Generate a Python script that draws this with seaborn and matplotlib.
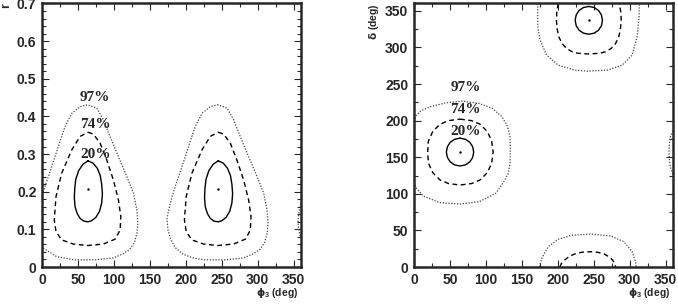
import matplotlib
matplotlib.use('Agg')
import matplotlib.pyplot as plt
import seaborn as sns
from matplotlib.ticker import MultipleLocator

# ---- left panel (phi3 vs r): contour vertices ----
A_SOLID_PHI = [64, 71, 77, 81, 83, 84, 83, 80, 75, 69, 64, 58, 53, 49, 46,
               45, 45.5, 47, 51, 57, 64]
A_SOLID_R = [0.282, 0.276, 0.262, 0.243, 0.220, 0.195, 0.170, 0.148, 0.132,
             0.123, 0.120, 0.122, 0.129, 0.142, 0.160, 0.183, 0.208, 0.233,
             0.256, 0.273, 0.282]
A_DASH_PHI = [64, 71.5, 80.8, 90.1, 99.3, 106.3, 109.6, 108.6, 101.7, 85.4,
              63.1, 43.6, 27.4, 19.5, 17.1, 19.5, 27.4, 41.4, 53, 64]
A_DASH_R = [0.358, 0.353, 0.329, 0.284, 0.231, 0.178, 0.134, 0.098, 0.074,
            0.061, 0.057, 0.061, 0.072, 0.094, 0.125, 0.187, 0.249, 0.311,
            0.347, 0.358]
A_DOT_PHI = [0, 5.6, 13.5, 22.7, 32, 41.4, 52.9, 63.1, 76.2, 85.4, 94.7,
             106.3, 118, 127.2, 131.9, 133.3, 132, 128.5, 122, 113, 99, 74,
             44, 20, 0]
A_DOT_R = [0.192, 0.222, 0.266, 0.320, 0.373, 0.408, 0.426, 0.431, 0.422,
           0.391, 0.346, 0.293, 0.240, 0.196, 0.151, 0.116, 0.090, 0.065,
           0.047, 0.035, 0.024, 0.019, 0.019, 0.028, 0.052]

B_SOLID_PHI = [245, 252, 258, 262, 264, 265, 264, 261, 256, 250, 245, 239,
               234, 230, 227, 226, 226.5, 228, 232, 238, 245]
B_SOLID_R = [0.282, 0.276, 0.262, 0.243, 0.220, 0.195, 0.170, 0.148, 0.132,
             0.123, 0.120, 0.122, 0.129, 0.142, 0.160, 0.183, 0.208, 0.233,
             0.256, 0.273, 0.282]
B_DASH_PHI = [245, 252.5, 261.8, 271, 280.3, 287.3, 290.6, 289.6, 282.7,
              266.4, 244, 224.6, 208.4, 200.5, 198, 200.5, 208.4, 222.4, 234,
              245]
B_DASH_R = [0.358, 0.353, 0.329, 0.284, 0.231, 0.178, 0.134, 0.098, 0.074,
            0.061, 0.057, 0.061, 0.072, 0.094, 0.125, 0.187, 0.249, 0.311,
            0.347, 0.358]
B_DOT_PHI = [245, 233.9, 222.4, 213, 203.7, 194.5, 186.6, 180.5, 176, 173.8,
             175, 178.5, 185, 196, 210, 225, 255, 280, 294, 303, 309.5, 313,
             314.3, 312.9, 308.2, 299, 287.3, 275.7, 266.4, 257.2, 245]
B_DOT_R = [0.431, 0.426, 0.408, 0.373, 0.320, 0.266, 0.222, 0.185, 0.150,
           0.128, 0.100, 0.075, 0.052, 0.034, 0.024, 0.019, 0.019, 0.024,
           0.035, 0.047, 0.065, 0.090, 0.116, 0.151, 0.196, 0.240, 0.293,
           0.346, 0.391, 0.422, 0.431]
C_DOT_PHI = [360, 357.5, 356, 356.5, 358.5, 360]
C_DOT_R = [0.168, 0.148, 0.125, 0.102, 0.086, 0.076]

R_CENTERS_PHI = [64, 244]
R_CENTERS_R = [0.207, 0.207]

# ---- right panel (phi3 vs delta) ----
L_SOLID_PHI = [64, 71.5, 77.5, 81.5, 83, 81.5, 77.5, 71.5, 64, 56.5, 50.5,
               46.5, 45, 46.5, 50.5, 56.5, 64]
L_SOLID_D = [176, 174.5, 170.5, 164.5, 157, 149.5, 143.5, 139.5, 138, 139.5,
             143.5, 149.5, 157, 164.5, 170.5, 174.5, 176]
L_DASH_PHI = [64, 80, 92, 102, 108, 110, 108, 102, 92, 80, 64, 48, 36, 26,
              20, 19, 20, 26, 36, 48, 64]
L_DASH_D = [202, 200, 195, 185, 172, 157, 142, 129, 119, 114, 112, 114, 119,
            129, 142, 157, 172, 185, 195, 200, 202]
L_DOT_PHI = [0, 3, 10, 21.9, 44.9, 67.7, 90.6, 108.8, 122.5, 130, 133.5, 134,
             133.5, 131, 124.9, 113.5, 90.6, 63.1, 35.7, 12.8, 4, 0]
L_DOT_D = [199, 207, 213.5, 218.9, 224.4, 226.7, 223.5, 216.7, 205.2, 192,
           178, 160, 142, 128, 116.5, 100.6, 89.2, 86, 88, 97, 107, 114]
E_DOT_PHI = [360, 356.5, 355, 354.5, 355, 356.5, 360]
E_DOT_D = [186, 178, 168, 157, 146, 136, 127]

T_SOLID_PHI = [243, 250.5, 256.5, 260.5, 262, 260.5, 256.5, 250.5, 243,
               235.5, 229.5, 225.5, 224, 225.5, 229.5, 235.5, 243]
T_SOLID_D = [356, 354.5, 350.5, 344.5, 337, 329.5, 323.5, 319.5, 318, 319.5,
             323.5, 329.5, 337, 344.5, 350.5, 354.5, 356]
T_DASH_PHI = [200.5, 198.5, 198, 199, 201.5, 206, 212, 220, 228, 243, 258,
              266, 274, 280, 284.5, 287, 288, 287.5, 285.5]
T_DASH_D = [360, 348, 337, 325, 314, 305, 298.5, 294, 292, 291, 292, 294,
            298.5, 305, 314, 325, 337, 348, 360]
T_DOT_PHI = [172, 172, 172.5, 175.2, 184.3, 200.4, 223.3, 241.5, 268.9,
             289.5, 303.3, 310.1, 312.9, 313]
T_DOT_D = [360, 337, 325, 310, 289.5, 275.8, 269, 267.6, 269, 275.8, 289.5,
           314.5, 341.8, 360]

BB_DASH_PHI = [202.7, 205, 209.5, 216, 223.3, 234, 246.1, 256, 264.4, 271,
               276, 278.8, 280.4]
BB_DASH_D = [0, 5, 9.6, 14.5, 17.8, 20.3, 20.9, 20, 17.8, 14, 9.6, 5, 0]
BB_DOT_PHI = [174.3, 177.5, 186.6, 200.4, 218.6, 246.1, 273.5, 291.9, 303.3,
              307.8, 309.2]
BB_DOT_D = [0, 11.9, 27.7, 37.8, 43.3, 45, 42.3, 34.5, 20.9, 7.2, 0]

D_CENTERS_PHI = [64, 243]
D_CENTERS_D = [157, 337]

CL_TEXT = ['97%', '74%', '20%']
R_TEXT_PHI = 74
R_TEXT_R = [0.450, 0.378, 0.300]
D_TEXT_PHI = 72
D_TEXT_D = [245, 215, 185]

STYLES = {
    'solid': dict(color='black', linestyle='-', linewidth=1.0),
    'dash': dict(color='black', linestyle=(0, (3.5, 2.5)), linewidth=1.0),
    'dot': dict(color='#444444', linestyle=(0, (1, 1.3)), linewidth=0.9),
}


def draw(ax, xs, ys, kind):
    sns.lineplot(x=xs, y=ys, sort=False, estimator=None, ax=ax,
                 legend=False, **STYLES[kind])


def style_axes(ax, xlim, ylim, ymaj, ymin, yfmt):
    ax.set_xlim(*xlim)
    ax.set_ylim(*ylim)
    ax.xaxis.set_major_locator(MultipleLocator(50))
    ax.xaxis.set_minor_locator(MultipleLocator(25))
    ax.yaxis.set_major_locator(MultipleLocator(ymaj))
    ax.yaxis.set_minor_locator(MultipleLocator(ymin))
    ax.yaxis.set_major_formatter(yfmt)
    ax.tick_params(which='both', direction='in', top=True, right=True,
                   width=0.8, labelsize=10)
    ax.tick_params(which='major', length=5)
    ax.tick_params(which='minor', length=3)
    ax.tick_params(axis='y', pad=4)
    ax.tick_params(axis='x', pad=4)
    for lab in ax.get_xticklabels() + ax.get_yticklabels():
        lab.set_fontweight('bold')
    for sp in ax.spines.values():
        sp.set_linewidth(1.8)
        sp.set_visible(True)
    ax.set_xlabel('')
    ax.set_ylabel('')


sns.set_style('ticks')
plt.rcParams['font.family'] = ['Liberation Sans', 'DejaVu Sans']
plt.rcParams['font.weight'] = 'bold'
plt.rcParams['mathtext.fontset'] = 'custom'
plt.rcParams['mathtext.rm'] = 'Liberation Sans:bold'
plt.rcParams['mathtext.it'] = 'DejaVu Sans'

fig = plt.figure(figsize=(6.78, 3.04), dpi=100)
ax1 = fig.add_axes([0.0619, 0.1217, 0.382, 0.8668])
ax2 = fig.add_axes([0.6106, 0.1217, 0.382, 0.8668])

for xs, ys, k in [(A_SOLID_PHI, A_SOLID_R, 'solid'),
                  (A_DASH_PHI, A_DASH_R, 'dash'),
                  (A_DOT_PHI, A_DOT_R, 'dot'),
                  (B_SOLID_PHI, B_SOLID_R, 'solid'),
                  (B_DASH_PHI, B_DASH_R, 'dash'),
                  (B_DOT_PHI, B_DOT_R, 'dot'),
                  (C_DOT_PHI, C_DOT_R, 'dot')]:
    draw(ax1, xs, ys, k)
sns.scatterplot(x=R_CENTERS_PHI, y=R_CENTERS_R, ax=ax1, color='black',
                s=3, linewidth=0, legend=False)

for xs, ys, k in [(L_SOLID_PHI, L_SOLID_D, 'solid'),
                  (L_DASH_PHI, L_DASH_D, 'dash'),
                  (L_DOT_PHI, L_DOT_D, 'dot'),
                  (E_DOT_PHI, E_DOT_D, 'dot'),
                  (T_SOLID_PHI, T_SOLID_D, 'solid'),
                  (T_DASH_PHI, T_DASH_D, 'dash'),
                  (T_DOT_PHI, T_DOT_D, 'dot'),
                  (BB_DASH_PHI, BB_DASH_D, 'dash'),
                  (BB_DOT_PHI, BB_DOT_D, 'dot')]:
    draw(ax2, xs, ys, k)
sns.scatterplot(x=D_CENTERS_PHI, y=D_CENTERS_D, ax=ax2, color='black',
                s=3, linewidth=0, legend=False)

style_axes(ax1, (0, 360), (0, 0.7), 0.1, 0.02,
           lambda v, p: '0' if abs(v) < 1e-9 else f'{v:.1f}')
style_axes(ax2, (0, 360), (0, 360), 50, 25,
           lambda v, p: f'{v:.0f}')

for txt, y in zip(CL_TEXT, R_TEXT_R):
    ax1.text(R_TEXT_PHI, y, txt, ha='center', va='center', fontsize=11,
             family='Liberation Serif', fontweight='bold')
for txt, y in zip(CL_TEXT, D_TEXT_D):
    ax2.text(D_TEXT_PHI, y, txt, ha='center', va='center', fontsize=11,
             family='Liberation Serif', fontweight='bold')

for ax in (ax1, ax2):
    pos = ax.get_position()
    fig.text(pos.x1 - 0.004, 0.035, r'$\phi_3$ (deg)', ha='right',
             va='center', fontsize=7.5, fontweight='bold')
fig.text(0.551, 0.99, r'$\delta$ (deg)', rotation=90, ha='center', va='top',
         fontsize=7.5, fontweight='bold')
fig.text(0.0, 0.99, 'r', rotation=90, ha='left', va='top',
         fontsize=9, fontweight='bold')

fig.savefig('out.png', dpi=100)
